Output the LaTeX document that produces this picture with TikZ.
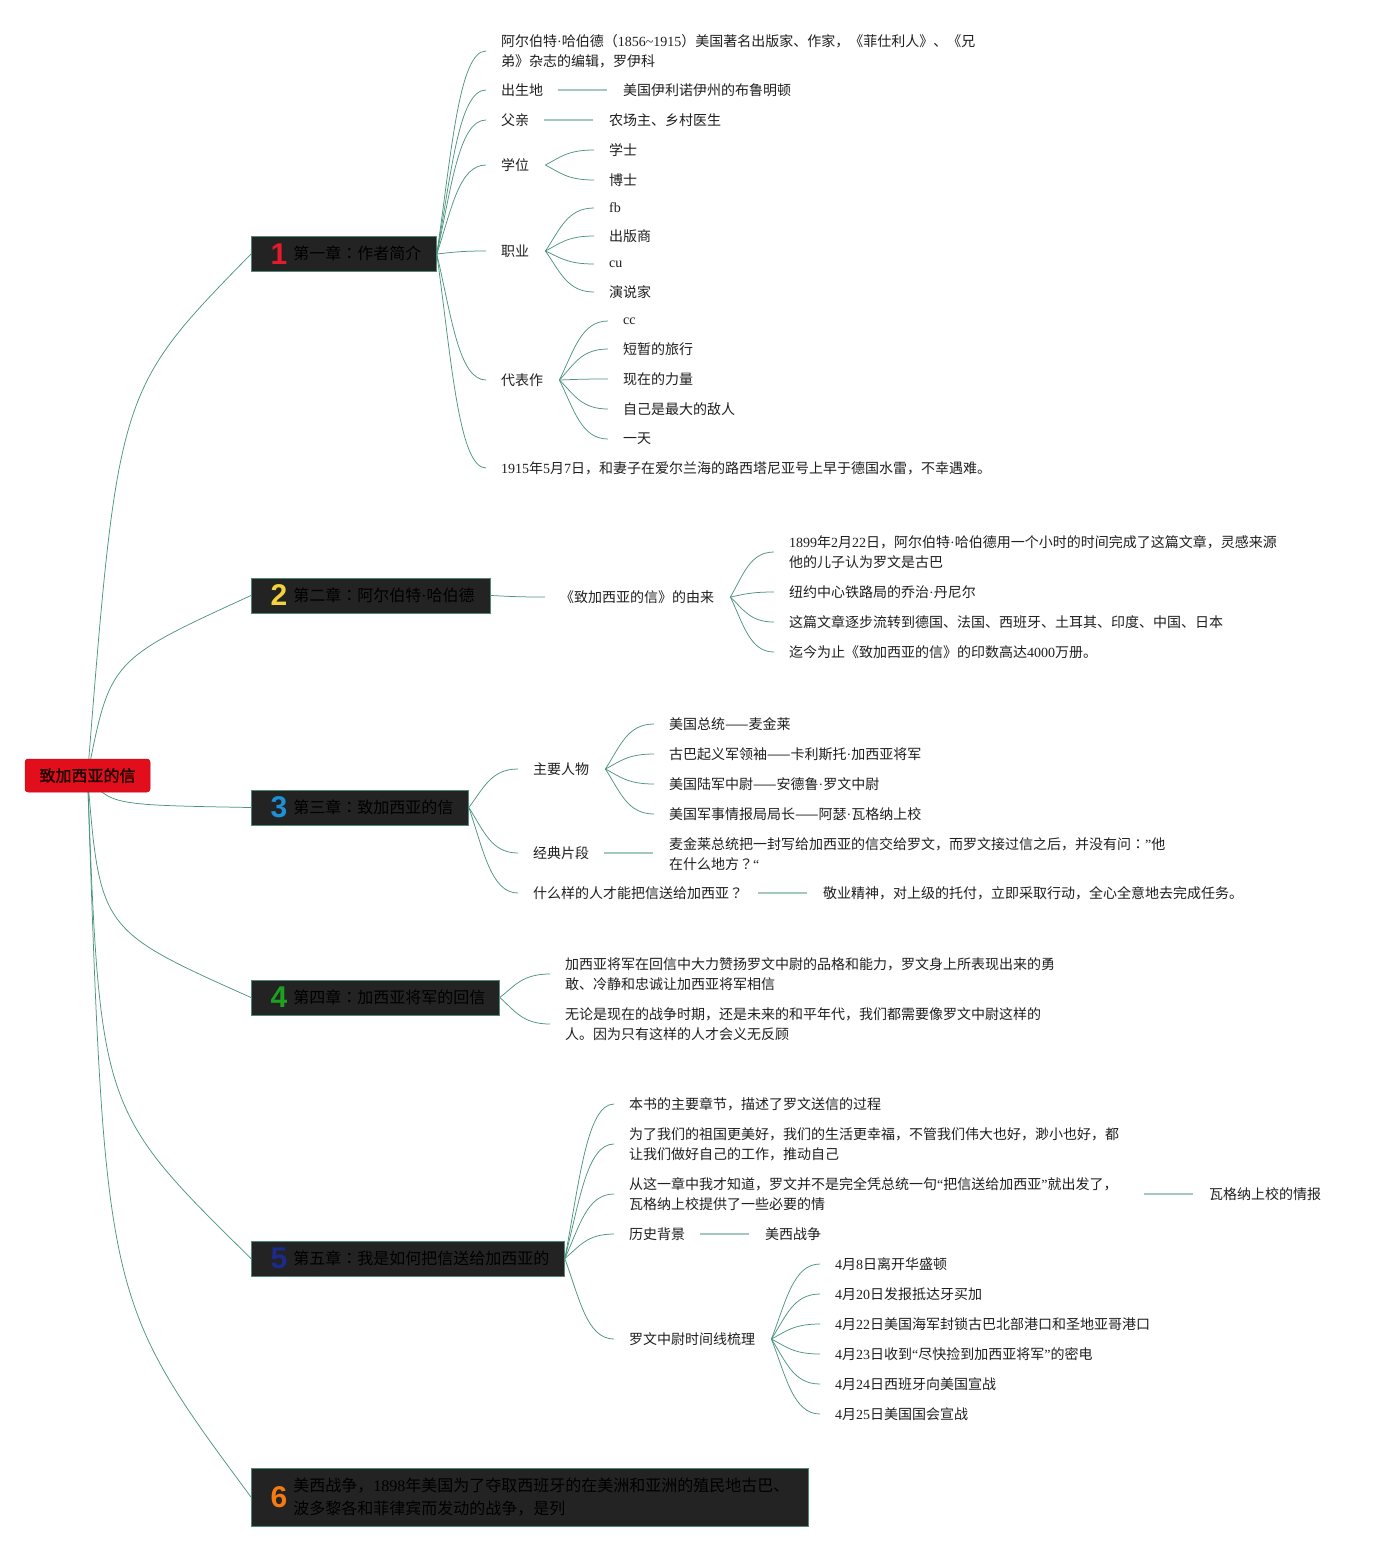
\documentclass[tikz,border=0pt]{standalone}
\usepackage{fontspec}
\setmainfont{Noto Sans CJK SC}
\newfontfamily\ltn{Liberation Serif}
\newfontfamily\numfont{Liberation Sans}
\newfontfamily\tcfont{Noto Sans CJK TC}
\newfontfamily\rootfont[FakeBold=1.5]{Noto Sans CJK SC}
\newcommand\la[1]{{\ltn #1}}
\newcommand\dt{{\ltn ·}}
\newcommand\cln{{\tcfont ：}}
\newcommand\qm{{\tcfont ？}}
\usetikzlibrary{calc,backgrounds}
\definecolor{lncol}{HTML}{4E9580}
\definecolor{lnlight}{HTML}{A3C9BC}
\definecolor{chfill}{HTML}{232323}
\definecolor{chdraw}{HTML}{4F8A78}
\definecolor{rootred}{HTML}{E30E1C}
\definecolor{nred}{HTML}{E31B2A}
\definecolor{nyellow}{HTML}{F2D23E}
\definecolor{nblue}{HTML}{1E90D6}
\definecolor{ngreen}{HTML}{1FA01F}
\definecolor{ndblue}{HTML}{1C2A8C}
\definecolor{norange}{HTML}{F47A12}
\newcommand\chapnum[3]{\hspace*{20pt}\raisebox{#3}{\makebox[15pt]{\numfont\bfseries\fontsize{30}{30}\selectfont\color{#1}#2}}\hspace*{7pt}}
\tikzset{
  txt/.style={anchor=west, inner sep=0pt, font=\fontsize{14}{20}\selectfont, text=black!88, align=left},
  chapbox/.style={anchor=west, draw=chdraw, fill=chfill, line width=0.8pt, inner xsep=0pt, inner ysep=0pt, minimum height=35pt, font=\fontsize{16}{23}\selectfont, text=black},
  rootbox/.style={draw=rootred!85!black, line width=0.5pt, fill=rootred, rounded corners=3pt, minimum width=125pt, minimum height=33pt, inner sep=0pt, font=\rootfont\fontsize{16}{20}\selectfont, text=black!90!red},
  conn/.style={draw=lncol, line width=0.75pt},
  flat/.style={draw=lnlight, line width=1.6pt},
}
\newcommand\lk[3]{\draw[conn] let \p1=(#1.east), \p2=(#2.west) in ({\x1+#3},\y1) .. controls ({\x1+#3+0.3*(\x2-15-\x1-#3)},{\y1+0.5*(\y2-\y1)}) and ({\x1+#3+0.45*(\x2-15-\x1-#3)},\y2) .. ({\x2-15},\y2);}
\newcommand\fl[2]{\draw[flat] let \p1=(#1.east), \p2=(#2.west) in ({\x1+15},\y1) -- ({\x2-16},\y1);}
\begin{document}
\begin{tikzpicture}[x=1pt,y=-1pt]
\useasboundingbox (0,0) rectangle (1381,1551);
% root
\node[rootbox] (root) at (87.5,775.5) {致加西亚的信};
% chapters
\node[chapbox] (c1) at (251,254) {\chapnum{nred}{1}{-4.5pt}第一章\cln 作者简介\hspace*{15pt}};
\node[chapbox] (c2) at (251,595.5) {\chapnum{nyellow}{2}{-4.5pt}第二章\cln 阿尔伯特\dt 哈伯德\hspace*{16pt}};
\node[chapbox] (c3) at (251,807.5) {\chapnum{nblue}{3}{-4.5pt}第三章\cln 致加西亚的信\hspace*{15pt}};
\node[chapbox] (c4) at (251,997.5) {\chapnum{ngreen}{4}{-4.5pt}第四章\cln 加西亚将军的回信\hspace*{14pt}};
\node[chapbox] (c5) at (251,1258.5) {\chapnum{ndblue}{5}{-4.5pt}第五章\cln 我是如何把信送给加西亚的\hspace*{15pt}};
\node[chapbox, minimum height=58pt] (c6) at (251,1497) {\chapnum{norange}{6}{-6.5pt}\parbox[c]{500pt}{\fontsize{16}{23}\selectfont 美西战争，\la{1898}年美国为了夺取西班牙的在美洲和亚洲的殖民地古巴、\\波多黎各和菲律宾而发动的战争，是列}\hspace*{15pt}};
% chapter 1
\node[txt] (a1) at (501,51) {阿尔伯特\dt 哈伯德（\la{1856\textasciitilde1915}）美国著名出版家、作家，《菲仕利人》、《兄\\弟》杂志的编辑，罗伊科};
\node[txt] (a2) at (501,90) {出生地};
\node[txt] (a2a) at (623,90) {美国伊利诺伊州的布鲁明顿};
\node[txt] (a3) at (501,120) {父亲};
\node[txt] (a3a) at (609,120) {农场主、乡村医生};
\node[txt] (a4) at (501,165) {学位};
\node[txt] (a4a) at (609,150) {学士};
\node[txt] (a4b) at (609,180) {博士};
\node[txt] (a5) at (501,251) {职业};
\node[txt] (a5a) at (609,208) {\la{fb}};
\node[txt] (a5b) at (609,236) {出版商};
\node[txt] (a5c) at (609,264) {\la{cu}};
\node[txt] (a5d) at (609,292) {演说家};
\node[txt] (a6) at (501,380) {代表作};
\node[txt] (a6a) at (623,321) {\la{cc}};
\node[txt] (a6b) at (623,349) {短暂的旅行};
\node[txt] (a6c) at (623,379) {现在的力量};
\node[txt] (a6d) at (623,409) {自己是最大的敌人};
\node[txt] (a6e) at (623,439) {一天};
\node[txt] (a7) at (501,468) {\la{1915}年\la{5}月\la{7}日，和妻子在爱尔兰海的路西塔尼亚号上早于德国水雷，不幸遇难。};
% chapter 2
\node[txt] (b0) at (560,597) {《致加西亚的信》的由来};
\node[txt] (b1) at (789,552) {\la{1899}年\la{2}月\la{22}日，阿尔伯特\dt 哈伯德用一个小时的时间完成了这篇文章，灵感来源\\他的儿子认为罗文是古巴};
\node[txt] (b2) at (789,592) {纽约中心铁路局的乔治\dt 丹尼尔};
\node[txt] (b3) at (789,622) {这篇文章逐步流转到德国、法国、西班牙、土耳其、印度、中国、日本};
\node[txt] (b4) at (789,652) {迄今为止《致加西亚的信》的印数高达\la{4000}万册。};
% chapter 3
\node[txt] (d1) at (533,769) {主要人物};
\node[txt] (d1a) at (669,724) {美国总统——麦金莱};
\node[txt] (d1b) at (669,754) {古巴起义军领袖——卡利斯托\dt 加西亚将军};
\node[txt] (d1c) at (669,784) {美国陆军中尉——安德鲁\dt 罗文中尉};
\node[txt] (d1d) at (669,814) {美国军事情报局局长——阿瑟\dt 瓦格纳上校};
\node[txt] (d2) at (533,853) {经典片段};
\node[txt] (d2a) at (669,854) {麦金莱总统把一封写给加西亚的信交给罗文，而罗文接过信之后，并没有问\cln\la{”}他\\在什么地方\qm\la{“}};
\node[txt] (d3) at (533,893) {什么样的人才能把信送给加西亚\qm};
\node[txt] (d3a) at (823,893) {敬业精神，对上级的托付，立即采取行动，全心全意地去完成任务。};
% chapter 4
\node[txt] (e1) at (565,974) {加西亚将军在回信中大力赞扬罗文中尉的品格和能力，罗文身上所表现出来的勇\\敢、冷静和忠诚让加西亚将军相信};
\node[txt] (e2) at (565,1024) {无论是现在的战争时期，还是未来的和平年代，我们都需要像罗文中尉这样的\\人。因为只有这样的人才会义无反顾};
% chapter 5
\node[txt] (f1) at (629,1104) {本书的主要章节，描述了罗文送信的过程};
\node[txt] (f2) at (629,1144) {为了我们的祖国更美好，我们的生活更幸福，不管我们伟大也好，渺小也好，都\\让我们做好自己的工作，推动自己};
\node[txt, text width=500pt] (f3) at (629,1194) {从这一章中我才知道，罗文并不是完全凭总统一句\la{“}把信送给加西亚\la{”}就出发了，\\瓦格纳上校提供了一些必要的情};
\node[txt] (f3a) at (1209,1194) {瓦格纳上校的情报};
\node[txt] (f4) at (629,1234) {历史背景};
\node[txt] (f4a) at (765,1234) {美西战争};
\node[txt] (f5) at (629,1339) {罗文中尉时间线梳理};
\node[txt] (f5a) at (835,1264) {\la{4}月\la{8}日离开华盛顿};
\node[txt] (f5b) at (835,1294) {\la{4}月\la{20}日发报抵达牙买加};
\node[txt] (f5c) at (835,1324) {\la{4}月\la{22}日美国海军封锁古巴北部港口和圣地亚哥港口};
\node[txt] (f5d) at (835,1354) {\la{4}月\la{23}日收到\la{“}尽快捡到加西亚将军\la{”}的密电};
\node[txt] (f5e) at (835,1384) {\la{4}月\la{24}日西班牙向美国宣战};
\node[txt] (f5f) at (835,1414) {\la{4}月\la{25}日美国国会宣战};
\begin{pgfonlayer}{background}
\fill[white] (0,0) rectangle (1381,1551);
% root to chapters
\draw[conn] (root.center) .. controls (118,390) .. (c1.west);
\draw[conn] (root.center) .. controls (110,660) .. (c2.west);
\draw[conn] (root.center) .. controls (110,805) .. (c3.west);
\draw[conn] (root.center) .. controls (100,930) .. (c4.west);
\draw[conn] (root.center) .. controls (100,1110) .. (c5.west);
\draw[conn] (root.center) .. controls (105,1300) .. (c6.west);
% chapter 1
\lk{c1}{a1}{0}\lk{c1}{a2}{0}\lk{c1}{a3}{0}\lk{c1}{a4}{0}\lk{c1}{a5}{0}\lk{c1}{a6}{0}\lk{c1}{a7}{0}
\fl{a2}{a2a}\fl{a3}{a3a}
\lk{a4}{a4a}{16}\lk{a4}{a4b}{16}
\lk{a5}{a5a}{16}\lk{a5}{a5b}{16}\lk{a5}{a5c}{16}\lk{a5}{a5d}{16}
\lk{a6}{a6a}{16}\lk{a6}{a6b}{16}\lk{a6}{a6c}{16}\lk{a6}{a6d}{16}\lk{a6}{a6e}{16}
% chapter 2
\lk{c2}{b0}{0}
\lk{b0}{b1}{16}\lk{b0}{b2}{16}\lk{b0}{b3}{16}\lk{b0}{b4}{16}
% chapter 3
\lk{c3}{d1}{0}\lk{c3}{d2}{0}\lk{c3}{d3}{0}
\lk{d1}{d1a}{16}\lk{d1}{d1b}{16}\lk{d1}{d1c}{16}\lk{d1}{d1d}{16}
\fl{d2}{d2a}\fl{d3}{d3a}
% chapter 4
\lk{c4}{e1}{0}\lk{c4}{e2}{0}
% chapter 5
\lk{c5}{f1}{0}\lk{c5}{f2}{0}\lk{c5}{f3}{0}\lk{c5}{f4}{0}\lk{c5}{f5}{0}
\fl{f3}{f3a}\fl{f4}{f4a}
\lk{f5}{f5a}{16}\lk{f5}{f5b}{16}\lk{f5}{f5c}{16}\lk{f5}{f5d}{16}\lk{f5}{f5e}{16}\lk{f5}{f5f}{16}
\end{pgfonlayer}
\end{tikzpicture}
\end{document}
